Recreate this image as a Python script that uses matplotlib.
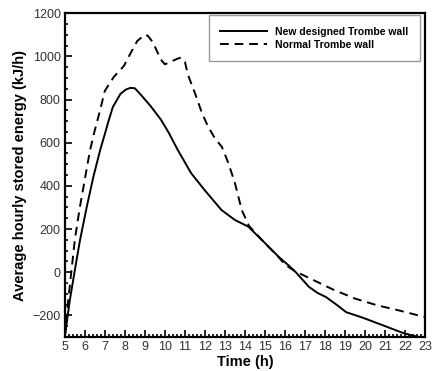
import numpy as np
import matplotlib.pyplot as plt
from matplotlib.ticker import MultipleLocator

plt.rcParams['font.family'] = ['Liberation Sans', 'DejaVu Sans']

# new designed Trombe wall
t_new = [5.0, 5.25, 5.5, 5.76, 6.1, 6.43, 6.77, 7.0, 7.2, 7.4, 7.78, 8.05, 8.28, 8.5,
         8.79, 9.29, 9.8, 10.2, 10.64, 11.31, 11.98, 12.83, 13.5, 14.17,
         14.85, 15.69, 16.2, 16.53, 17.2, 17.63, 18.05, 18.6, 19.06, 19.9,
         20.9, 21.92, 22.5, 23.0]
e_new = [-300, -130, 9, 149, 304, 443, 567, 640, 705, 765, 826, 846, 854, 852,
         823, 769, 707, 645, 567, 459, 381, 288, 242, 211,
         149, 71, 30, 1, -68, -96, -115, -152, -185, -211,
         -246, -282, -296, -305]

# normal Trombe wall
t_norm = [5.0, 5.15, 5.3, 5.5, 5.75, 6.0, 6.25, 6.45, 6.77, 7.0, 7.45, 7.95,
          8.3, 8.62, 9.0, 9.15, 9.4, 9.8, 10.0, 10.3, 10.6, 10.8, 11.0, 11.15,
          11.5, 11.85, 12.15, 12.5, 12.85, 13.17, 13.5, 13.84, 14.2, 14.85,
          15.7, 16.0, 16.5, 17.1, 18.4, 19.5, 20.6, 21.7, 23.0]
e_norm = [-300, -150, -20, 150, 300, 430, 560, 640, 753, 840, 905, 955,
          1017, 1071, 1100, 1095, 1065, 985, 963, 975, 988, 994, 975, 915,
          830, 738, 676, 620, 580, 506, 413, 288, 215, 149,
          68, 35, 5, -22, -80, -122, -153, -177, -208]

fig = plt.figure(figsize=(4.32, 3.71), dpi=100)
ax = fig.add_axes([0.150, 0.0916, 0.834, 0.873])

ax.plot(t_new, e_new, color='black', lw=1.4, label='New designed Trombe wall')
ax.plot(t_norm, e_norm, color='black', lw=1.4, dashes=(4.5, 3),
        label='Normal Trombe wall')

ax.set_xlim(5, 23)
ax.set_ylim(-300, 1200)
ax.xaxis.set_major_locator(MultipleLocator(1))
ax.xaxis.set_minor_locator(MultipleLocator(0.2))
ax.yaxis.set_major_locator(MultipleLocator(200))
ax.yaxis.set_minor_locator(MultipleLocator(50))
ax.tick_params(which='both', direction='in', top=False, right=False,
               labelsize=9, width=1.2, labelcolor='#333333')
ax.tick_params(which='major', length=5, pad=3)
ax.tick_params(which='minor', length=2.5)
for s in ax.spines.values():
    s.set_linewidth(1.6)

ax.set_xlabel('Time (h)', fontsize=10.5, fontweight='bold', labelpad=1)
ax.set_ylabel('Average hourly stored energy (kJ/h)', fontsize=10.5,
              fontweight='bold', labelpad=4)

leg = ax.legend(loc='upper right', bbox_to_anchor=(1 - 5 / 360, 1 - 2 / 324),
                borderaxespad=0, fancybox=False, handlelength=4.5,
                handletextpad=0.8, borderpad=1.1,
                prop={'size': 7.5, 'weight': 'bold'}, labelspacing=0.3)
leg.get_frame().set_edgecolor('gray')
leg.get_frame().set_linewidth(1.0)

plt.savefig('out.png', dpi=100)
